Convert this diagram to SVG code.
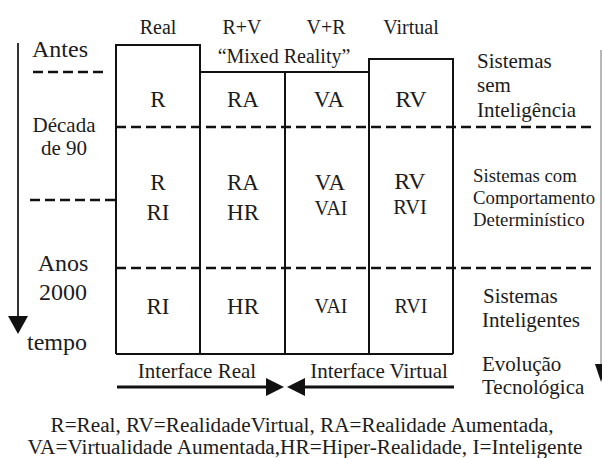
<svg xmlns="http://www.w3.org/2000/svg" width="602" height="458" viewBox="0 0 602 458">
  <style>
    .box { fill: none; stroke: #111; stroke-width: 2; }
    .dash { fill: none; stroke: #111; stroke-width: 2.4; stroke-dasharray: 10 5; }
  </style>
  <rect width="602" height="458" fill="#fff"/>

  <!-- column headers -->
  <g id="headers" fill="#1c1c1c">
    <text font-family="Liberation Serif" font-size="20" text-anchor="middle" x="158" y="34">Real</text>
    <text font-family="Liberation Serif" font-size="20" text-anchor="middle" x="242" y="34">R+V</text>
    <text font-family="Liberation Serif" font-size="20" text-anchor="middle" x="326" y="34">V+R</text>
    <text font-family="Liberation Serif" font-size="20" text-anchor="middle" x="411" y="34">Virtual</text>
    <text font-family="Liberation Serif" font-size="20" text-anchor="middle" x="284" y="63">“Mixed Reality”</text>
  </g>

  <!-- period lines -->
  <g id="periods">
    <path class="dash" d="M33,72 H108"/>
    <path class="dash" d="M116,127 H594"/>
    <path class="dash" d="M30,200 H116"/>
    <path class="dash" d="M116,268 H596"/>
  </g>

  <!-- time axis labels -->
  <g id="time-labels" fill="#1c1c1c">
    <text font-family="Liberation Serif" font-size="24" x="32" y="57">Antes</text>
    <text font-family="Liberation Serif" font-size="21" text-anchor="middle" x="64" y="132">Década</text>
    <text font-family="Liberation Serif" font-size="21" text-anchor="middle" x="64" y="155">de 90</text>
    <text font-family="Liberation Serif" font-size="24" text-anchor="middle" x="63" y="271">Anos</text>
    <text font-family="Liberation Serif" font-size="24" text-anchor="middle" x="63" y="300">2000</text>
    <text font-family="Liberation Serif" font-size="24" x="27" y="350">tempo</text>
  </g>

  <!-- column: Real -->
  <g id="col-real" fill="#1c1c1c">
    <path class="box" d="M116,354 V45 H200 V354"/>
    <text font-family="Liberation Serif" font-size="23" text-anchor="middle" x="158" y="107">R</text>
    <text font-family="Liberation Serif" font-size="23" text-anchor="middle" x="158" y="190">R</text>
    <text font-family="Liberation Serif" font-size="23" text-anchor="middle" x="158" y="220">RI</text>
    <text font-family="Liberation Serif" font-size="23" text-anchor="middle" x="158" y="314">RI</text>
  </g>

  <!-- column: R+V -->
  <g id="col-rv" fill="#1c1c1c">
    <path class="box" d="M200,72 H285 V354"/>
    <text font-family="Liberation Serif" font-size="23" text-anchor="middle" x="243" y="107">RA</text>
    <text font-family="Liberation Serif" font-size="23" text-anchor="middle" x="243" y="190">RA</text>
    <text font-family="Liberation Serif" font-size="23" text-anchor="middle" x="243" y="220">HR</text>
    <text font-family="Liberation Serif" font-size="23" text-anchor="middle" x="243" y="314">HR</text>
  </g>

  <!-- column: V+R -->
  <g id="col-vr" fill="#1c1c1c">
    <path class="box" d="M285,72 H369"/>
    <text font-family="Liberation Serif" font-size="23" text-anchor="middle" x="329" y="107">VA</text>
    <text font-family="Liberation Serif" font-size="23" text-anchor="middle" x="330" y="190">VA</text>
    <text font-family="Liberation Serif" font-size="20" text-anchor="middle" x="331" y="215">VAI</text>
    <text font-family="Liberation Serif" font-size="20" text-anchor="middle" x="331" y="313">VAI</text>
  </g>

  <!-- column: Virtual -->
  <g id="col-virtual" fill="#1c1c1c">
    <path class="box" d="M369,354 V59 H453 V354"/>
    <text font-family="Liberation Serif" font-size="24" text-anchor="middle" x="411" y="107">RV</text>
    <text font-family="Liberation Serif" font-size="24" text-anchor="middle" x="410" y="189">RV</text>
    <text font-family="Liberation Serif" font-size="20.5" text-anchor="middle" x="410" y="214">RVI</text>
    <text font-family="Liberation Serif" font-size="20" text-anchor="middle" x="411" y="313">RVI</text>
  </g>

  <!-- bottom edge -->
  <path class="box" d="M116,354 H453"/>

  <!-- system class labels -->
  <g id="systems" fill="#1c1c1c">
    <text font-family="Liberation Serif" font-size="21" x="477" y="68">Sistemas</text>
    <text font-family="Liberation Serif" font-size="21" x="477" y="92">sem</text>
    <text font-family="Liberation Serif" font-size="21" x="477" y="117">Inteligência</text>
    <text font-family="Liberation Serif" font-size="18.8" x="473" y="182">Sistemas com</text>
    <text font-family="Liberation Serif" font-size="18.8" x="473" y="204">Comportamento</text>
    <text font-family="Liberation Serif" font-size="18.8" x="473" y="226">Determinístico</text>
    <text font-family="Liberation Serif" font-size="21" x="483" y="303">Sistemas</text>
    <text font-family="Liberation Serif" font-size="21" x="482" y="327">Inteligentes</text>
    <text font-family="Liberation Serif" font-size="21" x="482" y="371">Evolução</text>
    <text font-family="Liberation Serif" font-size="21" x="482" y="394">Tecnológica</text>
  </g>

  <!-- interface labels -->
  <g id="interfaces" fill="#1c1c1c">
    <text font-family="Liberation Serif" font-size="21" text-anchor="middle" x="197" y="378">Interface Real</text>
    <text font-family="Liberation Serif" font-size="21" text-anchor="middle" x="379" y="378">Interface Virtual</text>
  </g>

  <!-- legend -->
  <g id="legend" fill="#1c1c1c">
    <text font-family="Liberation Serif" font-size="20" text-anchor="middle" x="302" y="432" textLength="503" lengthAdjust="spacingAndGlyphs">R=Real, RV=RealidadeVirtual, RA=Realidade Aumentada,</text>
    <text font-family="Liberation Serif" font-size="20" text-anchor="middle" x="305" y="454" textLength="555" lengthAdjust="spacingAndGlyphs">VA=Virtualidade Aumentada,HR=Hiper-Realidade, I=Inteligente</text>
  </g>

  <!-- arrows -->
  <g id="connectors">
    <path d="M18,43 V318" stroke="#333" stroke-width="2" fill="none"/>
    <path d="M8,316 L28,316 L18,334 z" fill="#111"/>
    <path d="M601,50 V366" stroke="#888" stroke-width="1.2" fill="none"/>
    <path d="M595,364 L606,364 L601,382 z" fill="#111"/>
    <path d="M117,387 H268" stroke="#111" stroke-width="3" fill="none"/>
    <path d="M266,378 L284,387 L266,396 z" fill="#111"/>
    <path d="M304,387 H454" stroke="#111" stroke-width="3" fill="none"/>
    <path d="M305,378 L287,387 L305,396 z" fill="#111"/>
  </g>
</svg>
